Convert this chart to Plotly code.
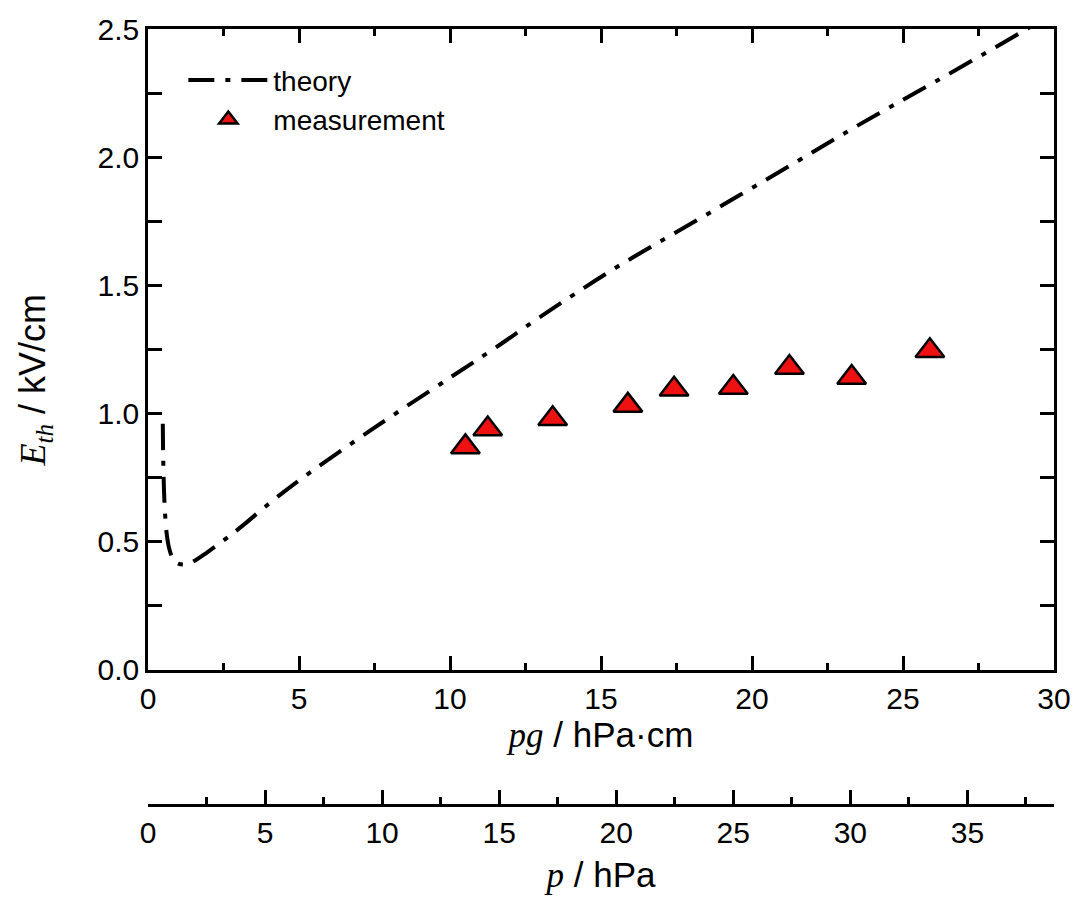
import plotly.graph_objects as go

# ---- data ----
theory_pg = [0.49, 0.50, 0.53, 0.56, 0.62, 0.70, 0.84, 1.0, 1.28, 1.6, 1.94, 2.5,
             3.05, 4.04, 5.03, 7.5, 10.0, 11.42, 13.0, 15.4, 18.0, 21.5, 23.58,
             26.0, 29.1, 29.3]
theory_E = [0.96, 0.85, 0.70, 0.62, 0.53, 0.475, 0.43, 0.415, 0.412, 0.43, 0.457,
            0.505, 0.555, 0.652, 0.742, 0.945, 1.14, 1.25, 1.378, 1.5625, 1.742,
            1.984, 2.129, 2.29, 2.50, 2.515]

meas_pg = [10.51, 11.25, 13.40, 15.89, 17.42, 19.38, 21.24, 23.30, 25.89]
meas_E = [0.87, 0.94, 0.98, 1.032, 1.095, 1.102, 1.18, 1.141, 1.245]

pg_range = [0, 30]
p_range = [0, 38.7]
E_range = [0, 2.5]

FONT = "Liberation Sans"
SERIF = "Liberation Serif"

fig = go.Figure()
fig.add_trace(go.Scatter(
    x=theory_pg, y=theory_E, mode="lines", name="theory",
    line=dict(color="black", width=4, dash="26px,11px,5px,11px", shape="spline"),
))
fig.add_trace(go.Scatter(
    x=meas_pg, y=meas_E, mode="markers", name="measurement",
    marker=dict(symbol="triangle-up", size=25, color="#ee1111",
                line=dict(color="black", width=2.5)),
))
# invisible trace to carry the pressure axis
fig.add_trace(go.Scatter(
    x=p_range, y=[None, None], xaxis="x2", mode="lines", showlegend=False,
    hoverinfo="skip", line=dict(width=0),
))

axis_common = dict(
    showline=True, linecolor="black", linewidth=2.5,
    ticks="inside", ticklen=14, tickwidth=2.5, tickcolor="black",
    showgrid=False, zeroline=False, automargin=False,
    tickfont=dict(family=FONT, size=30, color="black"),
)

fig.update_layout(
    width=1073, height=898,
    margin=dict(l=148, r=19, t=29, b=93),
    plot_bgcolor="white", paper_bgcolor="white",
    font=dict(family=FONT, color="black"),
    showlegend=True,
    legend=dict(x=0.039, y=0.966, xanchor="left", yanchor="top",
                font=dict(family=FONT, size=28, color="black"),
                bgcolor="rgba(0,0,0,0)", tracegroupgap=0, itemwidth=80),
    xaxis=dict(
        **axis_common, range=pg_range, dtick=5, tick0=0, mirror="allticks",
        anchor="y",
        minor=dict(dtick=2.5, ticklen=7, tickwidth=2.5, tickcolor="black", ticks="inside"),
        title=dict(text=f"<span style='font-family:{SERIF}'><i>pg</i></span> / hPa·cm",
                   font=dict(family=FONT, size=35, color="black"), standoff=6),
    ),
    yaxis=dict(
        **axis_common, range=E_range, dtick=0.5, tick0=0, tickformat=".1f",
        mirror="allticks", domain=[0.174, 1],
        minor=dict(dtick=0.25, ticklen=7, tickwidth=2.5, tickcolor="black", ticks="inside"),
    ),
    xaxis2=dict(
        **axis_common, range=p_range, dtick=5, tick0=0, anchor="free",
        overlaying="x", side="bottom", position=0,
        minor=dict(dtick=2.5, ticklen=7, tickwidth=2.5, tickcolor="black", ticks="inside"),
        title=dict(text=f"<span style='font-family:{SERIF}'><i>p</i></span> / hPa",
                   font=dict(family=FONT, size=35, color="black"), standoff=14),
    ),
    annotations=[dict(
        text=f"<span style='font-family:{SERIF}'><i>E</i><sub><i>th</i></sub></span> / kV/cm",
        xref="paper", yref="paper", x=-0.125, y=0.548, xanchor="center", yanchor="middle",
        textangle=-90, showarrow=False, font=dict(family=FONT, size=36, color="black"),
    )],
)

fig.write_html("out.html")
